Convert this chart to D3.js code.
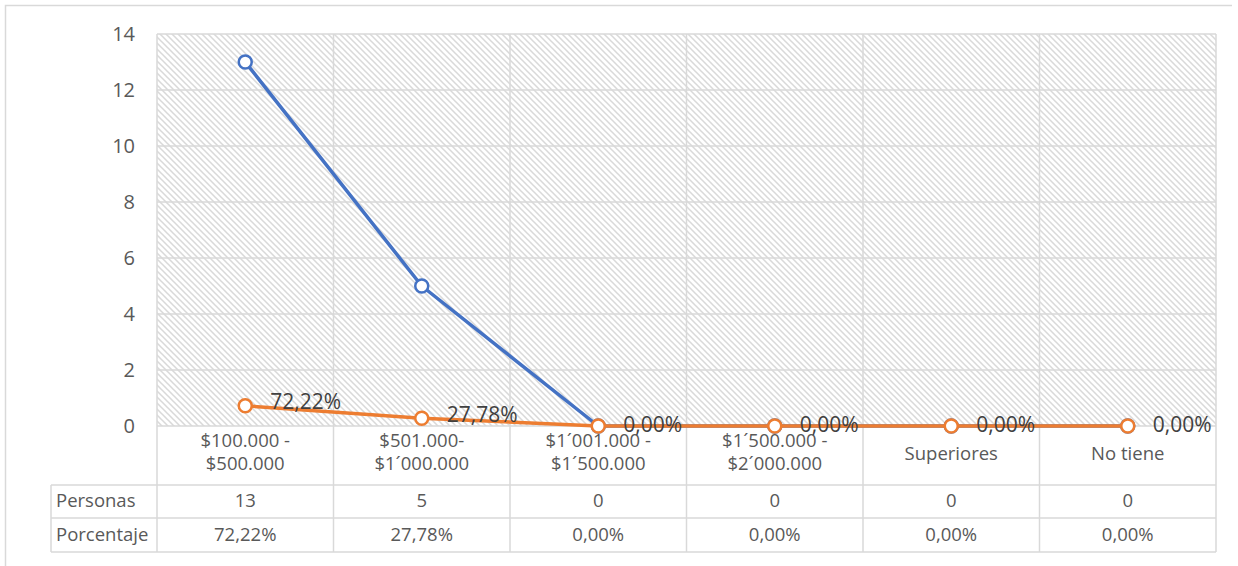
<!DOCTYPE html>
<html><head><meta charset="utf-8">
<script src="https://cdn.jsdelivr.net/npm/d3@7"></script>
<style>
html,body{margin:0;padding:0;background:#fff;}
svg text{font-family:"Open Sans",Lato,sans-serif;}
</style></head>
<body>
<svg id="c" width="1238" height="566"></svg>
<script>
const categories = [["$100.000 -","$500.000"],["$501.000-","$1´000.000"],["$1´001.000 -","$1´500.000"],["$1´500.000 -","$2´000.000"],["Superiores"],["No tiene"]];
const personas = [13,5,0,0,0,0];
const porcentaje = [0.7222,0.2778,0,0,0,0];
const porcentajeLabels = ["72,22%","27,78%","0,00%","0,00%","0,00%","0,00%"];
const yTicks = [0,2,4,6,8,10,12,14];
const rowNames = ["Personas","Porcentaje"];

const svg = d3.select("#c");
const L=157,R=1216,T=34,B=426;
const grid="#d9d9d9", txt="#595959";
const fontCat="18.5px", fontTick="20px", fontLbl="21px";

// outer border (top and left)
svg.append("path").attr("d","M5.5,570 L5.5,5.5 L1232,5.5").attr("fill","none").attr("stroke",grid).attr("stroke-width",1.5);

const x = d3.scaleBand().domain(d3.range(categories.length)).range([L,R]).padding(0);
const y = d3.scaleLinear().domain([0,14]).range([B,T]);

// pattern
const defs = svg.append("defs");
const P=6;
const pat = defs.append("pattern").attr("id","hatch").attr("patternUnits","userSpaceOnUse").attr("width",P).attr("height",P);
pat.append("rect").attr("width",P).attr("height",P).attr("fill","#fff");
pat.append("path").attr("d",`M-1,-1 L${P+1},${P+1} M-1,${P-1} L1,${P+1} M${P-1},-1 L${P+1},1`).attr("stroke","#d9d9d9").attr("stroke-width",1.5);
svg.append("rect").attr("x",L).attr("y",T).attr("width",R-L).attr("height",B-T).attr("fill","url(#hatch)");

// horizontal gridlines
svg.append("g").selectAll("line").data(yTicks).join("line")
  .attr("x1",L).attr("x2",R).attr("y1",d=>y(d)).attr("y2",d=>y(d))
  .attr("stroke",grid).attr("stroke-width",1.5);

// y axis labels
const yAxis = d3.axisLeft(y).tickValues(yTicks).tickSize(0).tickPadding(0);
const ya = svg.append("g").attr("transform",`translate(${L-22},0)`).call(yAxis);
ya.select(".domain").remove();
ya.selectAll("text").attr("fill",txt).style("font-size",fontTick).style("font-family","'Open Sans',Lato,sans-serif");

// table geometry
const tabL=51, rowY=[426,485,518,552];
const bounds = d3.range(categories.length+1).map(i=> i<categories.length ? x(i) : R);

// vertical lines (plot + category + table)
svg.append("g").selectAll("line").data(bounds).join("line")
  .attr("x1",d=>d).attr("x2",d=>d).attr("y1",T).attr("y2",rowY[3])
  .attr("stroke",grid).attr("stroke-width",1.5);
// table horizontal lines
svg.append("g").selectAll("line").data(rowY.slice(1)).join("line")
  .attr("x1",tabL).attr("x2",R).attr("y1",d=>d).attr("y2",d=>d)
  .attr("stroke",grid).attr("stroke-width",1.5);
svg.append("line").attr("x1",tabL).attr("x2",tabL).attr("y1",rowY[1]).attr("y2",rowY[3]).attr("stroke",grid).attr("stroke-width",1.5);

// category labels
const cg = svg.append("g");
categories.forEach((lines,i)=>{
  const cx = x(i)+x.bandwidth()/2;
  const t = cg.append("text").attr("x",cx).attr("text-anchor","middle").attr("fill",txt).style("font-size",fontCat);
  const y0 = lines.length===2 ? 442 : 455;
  lines.forEach((s,j)=>t.append("tspan").attr("x",cx).attr("y",y0+j*23).attr("dominant-baseline","middle").text(s));
});

// table rows
const rows=[personas.map(String), porcentajeLabels];
rows.forEach((r,ri)=>{
  const cy=(rowY[ri+1]+rowY[ri+2])/2+1;
  svg.append("text").attr("x",tabL+5).attr("y",cy).attr("dominant-baseline","middle").attr("fill",txt).style("font-size",fontCat).text(rowNames[ri]);
  svg.append("g").selectAll("text").data(r).join("text")
    .attr("x",(d,i)=>x(i)+x.bandwidth()/2).attr("y",cy).attr("text-anchor","middle").attr("dominant-baseline","middle")
    .attr("fill",txt).style("font-size",fontCat).text(d=>d);
});

// lines
const cxf = i=>x(i)+x.bandwidth()/2;
function series(vals,color){
  const g=svg.append("g");
  g.append("path").datum(vals).attr("d",d3.line().x((d,i)=>cxf(i)).y(d=>y(d)))
    .attr("fill","none").attr("stroke",color).attr("stroke-width",3.5).attr("stroke-linejoin","round");
  g.selectAll("circle").data(vals).join("circle").attr("cx",(d,i)=>cxf(i)).attr("cy",d=>y(d)).attr("r",6.5)
    .attr("fill","#fff").attr("stroke",color).attr("stroke-width",2.5);
}
series(personas,"#4472C4");
series(porcentaje,"#ED7D31");

// data labels
svg.append("g").selectAll("text").data(porcentaje).join("text")
  .attr("x",(d,i)=>cxf(i)+25).attr("y",(d,i)=>y(d)-(i<2?2:0)).attr("dominant-baseline","middle")
  .attr("fill","#404040").style("font-size",fontLbl).text((d,i)=>porcentajeLabels[i]);
</script>
</body></html>
